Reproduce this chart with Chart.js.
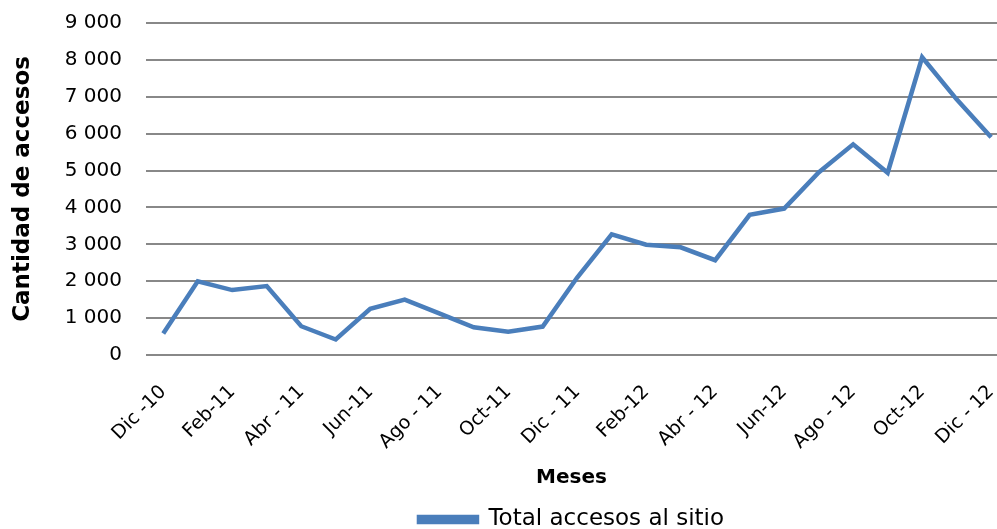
<!DOCTYPE html>
<html lang="es">
<head>
  <meta charset="UTF-8">
  <title>Total accesos al sitio</title>
  <script src="https://cdn.jsdelivr.net/npm/chart.js"></script>
  <style>
    body {
      margin: 0;
      padding: 0;
      background: #ffffff;
    }
    #chart-container {
      width: 997px;
      height: 529px;
    }
  </style>
</head>
<body>
  <div id="chart-container">
    <canvas id="accesosChart"></canvas>
  </div>

  <script>
    // meses (solo se muestra uno de cada dos)
    const meses = [
      'Dic -10', 'Ene-11', 'Feb-11', 'Mar-11', 'Abr - 11', 'May-11', 'Jun-11',
      'Jul-11', 'Ago - 11', 'Sep-11', 'Oct-11', 'Nov-11', 'Dic - 11',
      'Ene-12', 'Feb-12', 'Mar-12', 'Abr - 12', 'May-12', 'Jun-12',
      'Jul-12', 'Ago - 12', 'Sep-12', 'Oct-12', 'Nov-12', 'Dic - 12'
    ];
    // total de accesos por mes
    const accesos = [
      580, 2000, 1760, 1870, 780, 420, 1250,
      1500, 1130, 750, 630, 770, 2100,
      3270, 2990, 2920, 2570, 3800, 3970,
      4950, 5710, 4940, 8070, 6930, 5900
    ];
    const serieNombre = 'Total accesos al sitio';
    const tituloY = 'Cantidad de accesos';
    const tituloX = 'Meses';

    const azul = '#4a7ebb';
    const fuente = "'DejaVu Sans', sans-serif";

    // separador de miles con espacio
    function formatoMiles(v) {
      return String(v).replace(/\B(?=(\d{3})+(?!\d))/g, ' ');
    }

    const puntos = accesos.map((v, i) => ({ x: i, y: v }));

    const ctx = document.getElementById('accesosChart').getContext('2d');
    new Chart(ctx, {
      type: 'line',
      data: {
        datasets: [{
          label: serieNombre,
          data: puntos,
          borderColor: azul,
          backgroundColor: azul,
          borderWidth: 4.5,
          pointRadius: 0,
          tension: 0,
          fill: false
        }]
      },
      options: {
        responsive: true,
        maintainAspectRatio: false,
        animation: false,
        layout: {
          padding: { top: 23, left: 0, right: 0, bottom: -12 }
        },
        scales: {
          x: {
            type: 'linear',
            min: -0.5,
            max: 24.17,
            grid: { display: false, drawTicks: false },
            border: { display: false },
            ticks: {
              stepSize: 2,
              includeBounds: false,
              autoSkip: false,
              minRotation: 45,
              maxRotation: 45,
              padding: 26,
              color: '#000',
              font: { family: fuente, size: 19 },
              callback: v => meses[Math.round(v)] || ''
            },
            title: {
              display: true,
              text: tituloX,
              color: '#000',
              font: { family: fuente, size: 20, weight: 'bold' },
              padding: { top: 4, bottom: 18 }
            },
            afterFit: s => {
              s.height = 153;
              s.paddingLeft = 0;
              s.paddingRight = 0;
            }
          },
          y: {
            min: 0,
            max: 9000,
            grid: {
              color: '#888888',
              lineWidth: 2,
              drawTicks: false
            },
            border: { display: false },
            ticks: {
              stepSize: 1000,
              padding: 24,
              color: '#000',
              font: { family: fuente, size: 20 },
              callback: v => formatoMiles(v)
            },
            title: {
              display: true,
              text: tituloY,
              color: '#000',
              font: { family: fuente, size: 23, weight: 'bold' },
              padding: { top: 9, bottom: 0 }
            },
            afterFit: s => {
              s.width = 146;
              s.paddingTop = 0;
              s.paddingBottom = 0;
            }
          }
        },
        plugins: {
          legend: {
            position: 'bottom',
            fullSize: false,
            labels: {
              boxWidth: 58,
              boxHeight: 5,
              color: '#000',
              padding: 0,
              font: { family: fuente, size: 23 }
            }
          },
          tooltip: { enabled: false }
        }
      }
    });
  </script>
</body>
</html>
